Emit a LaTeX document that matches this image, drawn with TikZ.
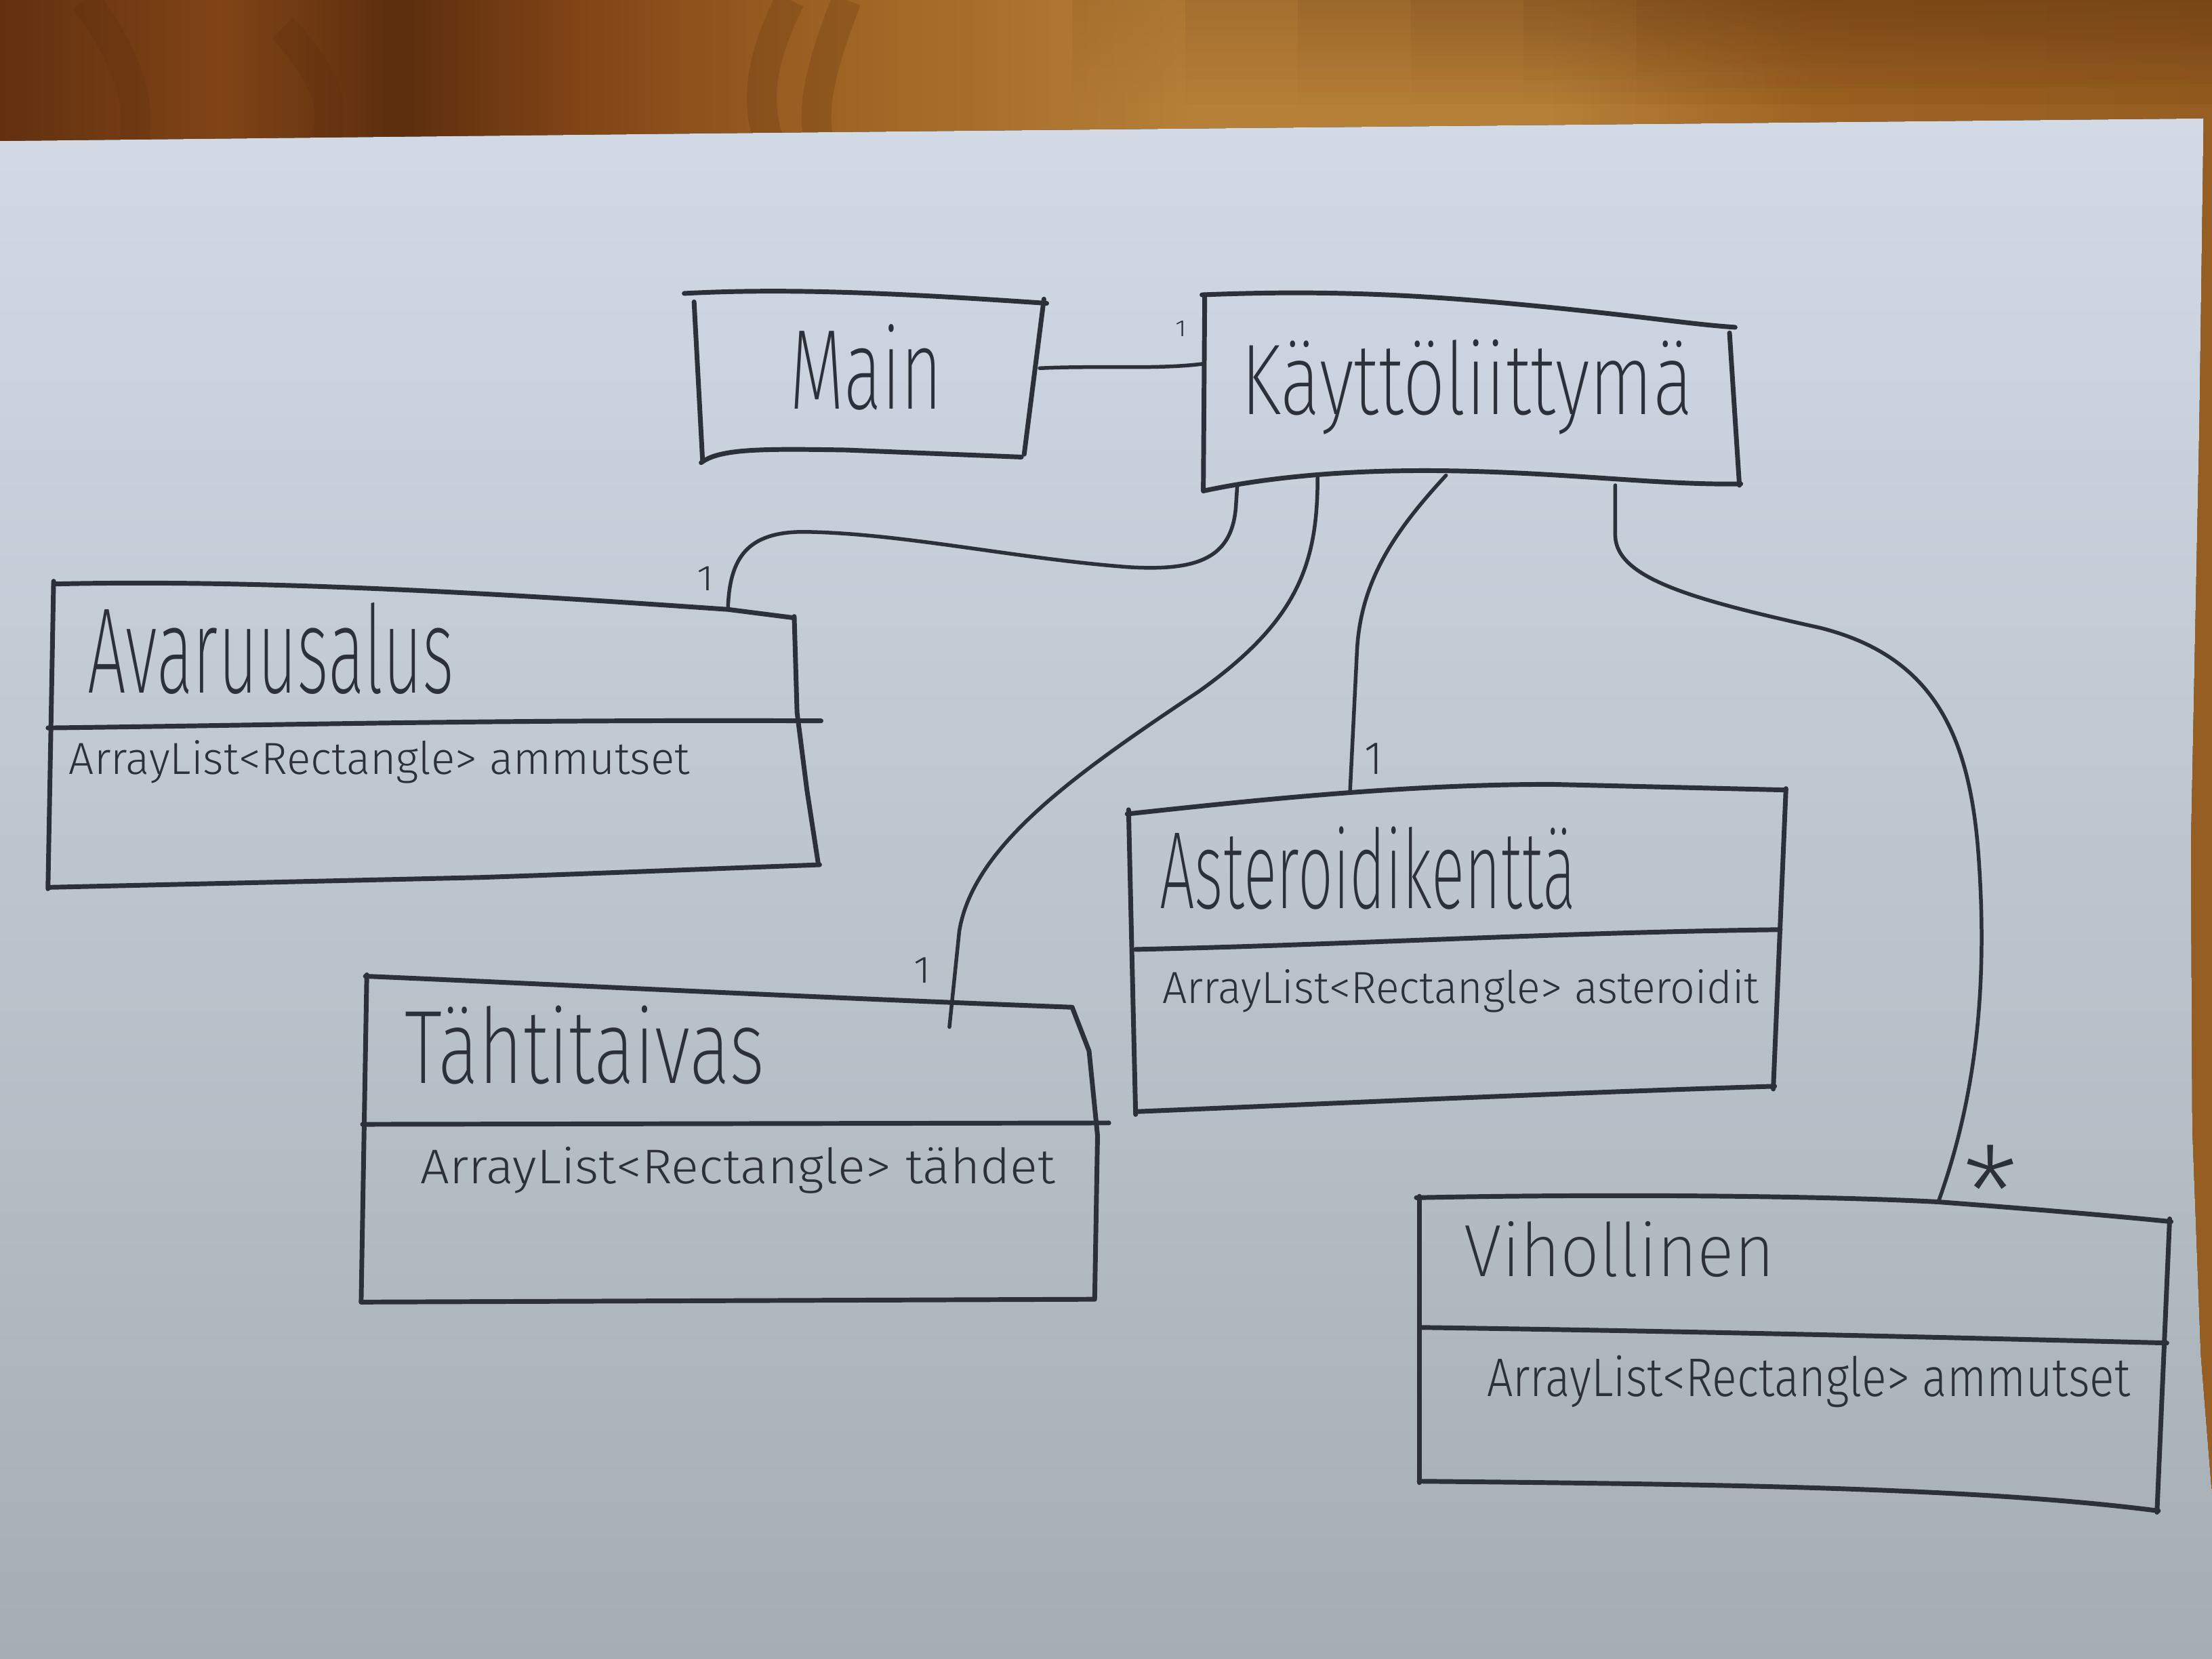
\documentclass[tikz,border=0pt]{standalone}
\usepackage{fontspec}
\setmainfont{Fira Sans}
\newfontfamily\handlight{Fira Sans Light}
\newfontfamily\handthin{Fira Sans ExtraLight}
\usetikzlibrary{calc,fadings}

\newdimen\pu \pu=0.01cm
% handwritten label squeezed into a given width and height (in picture units)
\newcommand\hw[3]{\resizebox{#1\pu}{#2\pu}{#3}}

\definecolor{pencil}{RGB}{44,48,56}
\definecolor{woodA}{RGB}{98,48,16}
\definecolor{woodB}{RGB}{128,68,22}
\definecolor{woodC}{RGB}{92,46,14}
\definecolor{woodD}{RGB}{158,100,36}
\definecolor{woodE}{RGB}{182,128,56}
\definecolor{woodF}{RGB}{150,94,34}
\definecolor{paperTop}{RGB}{210,218,230}
\definecolor{paperMid}{RGB}{192,200,210}
\definecolor{paperBot}{RGB}{166,174,180}

\pgfdeclarehorizontalshading{woodgrain}{100bp}{color(0bp)=(woodA); color(25bp)=(woodA); color(30bp)=(woodB); color(34bp)=(woodC); color(38bp)=(woodB); color(44bp)=(woodD); color(52bp)=(woodE); color(60bp)=(woodE); color(66bp)=(woodD); color(75bp)=(woodF); color(100bp)=(woodF)}

\tikzset{
  pen/.style={draw=pencil, line width=0.95pt, line cap=round, line join=round},
  wire/.style={draw=pencil, line width=0.75pt, line cap=round, line join=round},
  hand/.style={text=pencil, inner sep=0pt, outer sep=0pt},
  title/.style={hand, anchor=base west, font=\handthin},
  attr/.style={hand, anchor=base west, font=\handlight},
}

\begin{document}
\begin{tikzpicture}[x=0.01cm, y=-0.01cm]
\useasboundingbox (0,0) rectangle (1568,1176);

% table top
\fill[shading=woodgrain] (0,0) rectangle (1568,1176);
% darker grain along the top right, built up in soft layers
\foreach \l in {760,840,920,1000,1080,1160}
  \fill[woodC, path fading=south, opacity=0.1] (\l,0) rectangle (1568,75);
\begin{scope}[draw=woodC, opacity=0.22, line width=6pt]
  \draw (560,0) .. controls (540,40) and (535,70) .. (545,100);
  \draw (600,0) .. controls (585,40) and (575,70) .. (580,98);
  \draw (60,0) .. controls (90,40) and (100,70) .. (95,100);
  \draw (200,20) .. controls (230,50) and (240,80) .. (230,100);
\end{scope}

% sheet of paper
\fill[top color=paperTop, middle color=paperMid, bottom color=paperBot]
  (0,100) -- (560,94) -- (1562,84) -- (1559,300) -- (1553,600)
  -- (1554,800) -- (1560,960) -- (1568,1060) -- (1568,1176) -- (0,1176) -- cycle;

% ---- class Main
\draw[pen] (485,208) .. controls (560,204) and (640,208) .. (742,215);
\draw[pen] (740,212) -- (726,322);
\draw[pen] (492,214) -- (498,326);
\draw[pen] (497,328) .. controls (510,318) and (540,318) .. (600,319) -- (724,324);
\node[title] (mainT) at (560,290) {\hw{108}{60}{Main}};

% ---- class Käyttöliittymä
\draw[pen] (852,209) .. controls (950,205) and (1020,210) .. (1100,218)
  .. controls (1170,225) and (1200,230) .. (1230,232);
\draw[pen] (1226,236) -- (1233,344);
\draw[pen] (853,348) .. controls (900,338) and (960,332) .. (1040,334)
  .. controls (1120,336) and (1180,344) .. (1234,343);
\draw[pen] (854,209) -- (853,348);
\node[title] (kayT) at (880,294) {\hw{320}{53}{Käyttöliittymä}};

% ---- class Avaruusalus
\draw[pen] (38,414) .. controls (200,410) and (400,424) .. (516,432) -- (563,438);
\draw[pen] (563,437) -- (565,505) -- (572,560) -- (580,612);
\draw[pen] (581,613) .. controls (500,616) and (400,620) .. (340,622) -- (35,629);
\draw[pen] (38,412) -- (34,630);
\draw[pen] (34,516) .. controls (200,514) and (350,510) .. (582,511);
\node[title] (avT) at (62,491) {\hw{260}{64}{Avaruusalus}};
\node[attr] (avA) at (49,549) {\hw{440}{24}{ArrayList<Rectangle> ammutset}};

% ---- class Tähtitaivas
\draw[pen] (259,692) .. controls (400,698) and (550,706) .. (760,714);
\draw[pen] (760,714) -- (772,745) -- (778,805) -- (776,920);
\draw[pen] (256,923) -- (776,921);
\draw[pen] (260,691) -- (256,923);
\draw[pen] (257,797) -- (786,796);
\node[title] (taT) at (287,768) {\hw{255}{55}{Tähtitaivas}};
\node[attr] (taA) at (298,839) {\hw{450}{26}{ArrayList<Rectangle> tähdet}};

% ---- class Asteroidikenttä
\draw[pen] (799,577) .. controls (900,566) and (1000,556) .. (1100,556) -- (1266,560);
\draw[pen] (1266,559) -- (1257,772);
\draw[pen] (805,788) .. controls (950,782) and (1100,775) .. (1258,770);
\draw[pen] (800,574) -- (805,790);
\draw[pen] (805,673) .. controls (950,670) and (1100,661) .. (1262,659);
\node[title] (asT) at (822,644) {\hw{295}{58}{Asteroidikenttä}};
\node[attr] (asA) at (824,711) {\hw{423}{24}{ArrayList<Rectangle> asteroidit}};

% ---- class Vihollinen
\draw[pen] (1004,849) .. controls (1150,846) and (1300,848) .. (1374,852)
  .. controls (1440,857) and (1500,862) .. (1539,866);
\draw[pen] (1538,864) -- (1529,1072);
\draw[pen] (1006,1050) .. controls (1200,1052) and (1400,1054) .. (1530,1071);
\draw[pen] (1006,848) -- (1006,1051);
\draw[pen] (1008,941) .. controls (1150,943) and (1300,946) .. (1536,952);
\node[title] (viT) at (1038,905) {\hw{220}{39}{Vihollinen}};
\node[attr] (viA) at (1054,990) {\hw{456}{29}{ArrayList<Rectangle> ammutset}};

% ---- association ends
\coordinate (mainR) at (737,261);
\coordinate (kayL)  at (852,258);
\coordinate (kayB1) at (877,345);
\coordinate (kayB2) at (934,338);
\coordinate (kayB3) at (1025,337);
\coordinate (kayB4) at (1145,344);
\coordinate (avTop) at (516,432);
\coordinate (taTop) at (673,728);
\coordinate (asTop) at (957,561);
\coordinate (viTop) at (1374,852);

% ---- associations
\draw[wire] (mainR) .. controls (780,259) and (820,262) .. (kayL);
\draw[wire] (kayB1) -- (876,360) .. controls (873,395) and (850,405) .. (800,402)
  .. controls (720,396) and (640,378) .. (570,377)
  .. controls (530,377) and (517,395) .. (avTop);
\draw[wire] (kayB2) .. controls (934,400) and (920,440) .. (850,490)
  .. controls (760,550) and (690,600) .. (680,660) -- (taTop);
\draw[wire] (kayB3) .. controls (990,375) and (965,410) .. (962,460) -- (asTop);
\draw[wire] (kayB4) -- (1145,380) .. controls (1146,410) and (1200,425) .. (1290,445)
  .. controls (1370,465) and (1395,520) .. (1402,600)
  .. controls (1410,700) and (1400,780) .. (viTop);

% ---- multiplicities
\node[hand, font=\handlight] (mul1) at (837,233) {\hw{8}{11}{1}};
\node[hand, font=\handlight] (mul2) at (500,410) {\hw{12}{17}{1}};
\node[hand, font=\handlight] (mul3) at (654,688) {\hw{12}{18}{1}};
\node[hand, font=\handlight] (mul4) at (974,538) {\hw{13}{22}{1}};
\node[hand, anchor=north, font=\handthin] (mul5) at (1411,812) {\resizebox{40\pu}{!}{*}};
\end{tikzpicture}
\end{document}
